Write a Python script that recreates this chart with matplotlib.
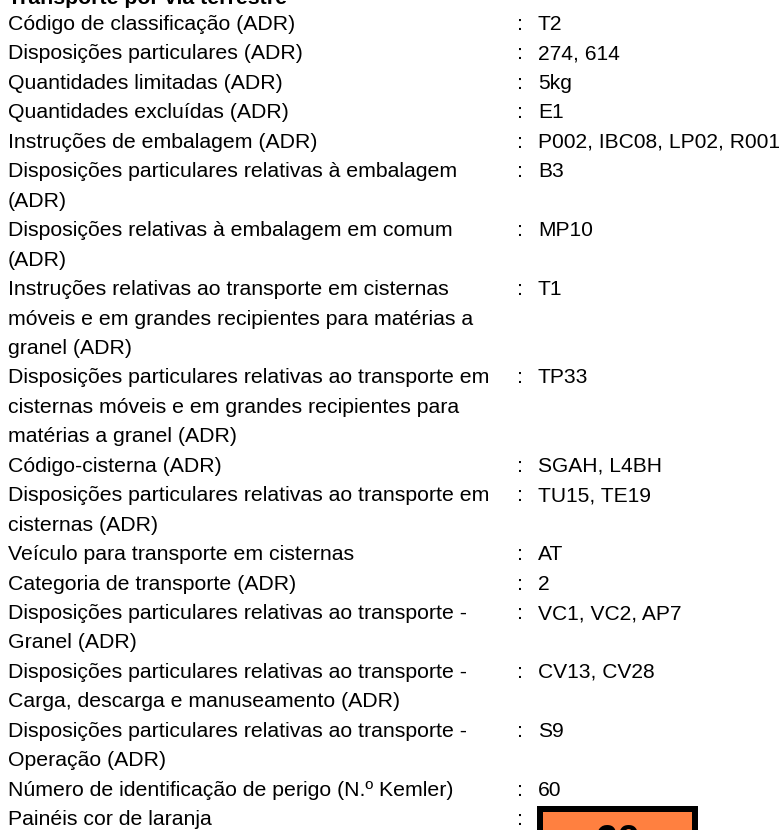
import matplotlib
matplotlib.use("Agg")
import matplotlib.pyplot as plt
from matplotlib.patches import Rectangle

W, H = 781, 830
header = "Transporte por via terrestre"
labels = [
    ["Código de classificação (ADR)"],
    ["Disposições particulares (ADR)"],
    ["Quantidades limitadas (ADR)"],
    ["Quantidades excluídas (ADR)"],
    ["Instruções de embalagem (ADR)"],
    ["Disposições particulares relativas à embalagem", "(ADR)"],
    ["Disposições relativas à embalagem em comum", "(ADR)"],
    ["Instruções relativas ao transporte em cisternas",
     "móveis e em grandes recipientes para matérias a", "granel (ADR)"],
    ["Disposições particulares relativas ao transporte em",
     "cisternas móveis e em grandes recipientes para", "matérias a granel (ADR)"],
    ["Código-cisterna (ADR)"],
    ["Disposições particulares relativas ao transporte em", "cisternas (ADR)"],
    ["Veículo para transporte em cisternas"],
    ["Categoria de transporte (ADR)"],
    ["Disposições particulares relativas ao transporte -", "Granel (ADR)"],
    ["Disposições particulares relativas ao transporte -",
     "Carga, descarga e manuseamento (ADR)"],
    ["Disposições particulares relativas ao transporte -", "Operação (ADR)"],
    ["Número de identificação de perigo (N.º Kemler)"],
    ["Painéis cor de laranja"],
]
values = ["T2", "274, 614", "5kg", "E1", "P002, IBC08, LP02, R001", "B3", "MP10",
          "T1", "TP33", "SGAH, L4BH", "TU15, TE19", "AT", "2", "VC1, VC2, AP7",
          "CV13, CV28", "S9", "60", None]
panel_number = "60"

fig = plt.figure(figsize=(W / 100, H / 100), dpi=100)
ax = fig.add_axes([0, 0, 1, 1])
ax.set_xlim(0, W)
ax.set_ylim(H, 0)
ax.axis("off")

font = "Liberation Sans"
fs = 15.3
fs_val = 15.1
x_label, x_colon, x_value = 8, 517, 538
y0, dy = 30, 29.45

ax.text(x_label, 3.5, header, fontsize=fs, fontweight="bold", family=font,
        va="baseline", ha="left")

line = 0
for lab, val in zip(labels, values):
    yb = y0 + line * dy
    for i, t in enumerate(lab):
        ax.text(x_label, yb + i * dy, t, fontsize=fs, family=font,
                va="baseline", ha="left", color="black")
    ax.text(x_colon, yb, ":", fontsize=fs, family=font, va="baseline", ha="left",
            color="black")
    if val is not None:
        ax.text(x_value, yb, val, fontsize=fs_val, family=font, va="baseline",
                ha="left", color="black")
    else:
        # orange panel
        px, py, pw, ph = 537, 806, 161, 121
        ax.add_patch(Rectangle((px, py), pw, ph, facecolor="black",
                               edgecolor="none", zorder=2))
        b = 6
        ax.add_patch(Rectangle((px + b, py + b), pw - 2 * b, ph - 2 * b,
                               facecolor="#FF8040", edgecolor="none", zorder=3))
        ax.text(px + pw / 2, py + 48, panel_number, fontsize=30, family=font,
                fontweight="bold", ha="center", va="baseline", zorder=4,
                color="black")
    line += len(lab)

fig.savefig("out.png", dpi=100)
